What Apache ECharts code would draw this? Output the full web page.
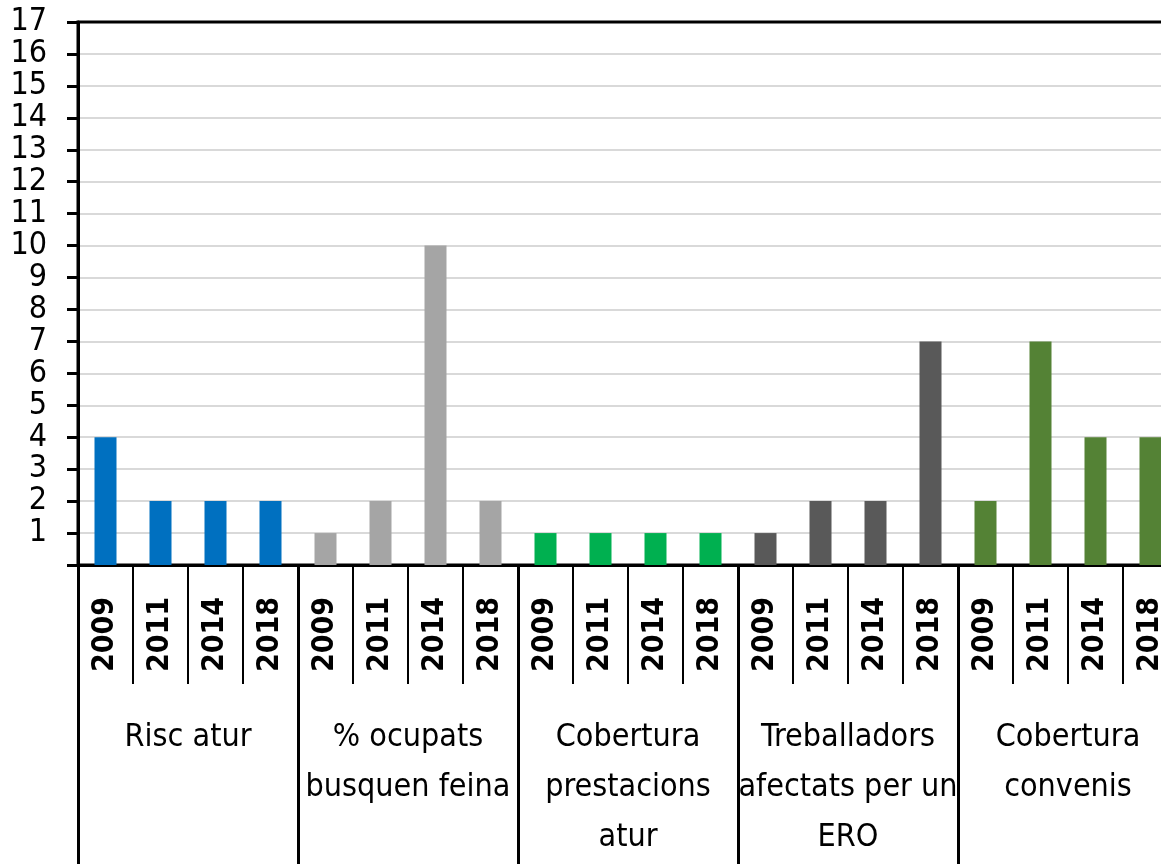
<!DOCTYPE html>
<html>
<head>
<meta charset="utf-8">
<title>Indicadors</title>
<script src="https://cdn.jsdelivr.net/npm/echarts@6/dist/echarts.min.js"></script>
<style>
  html, body { margin: 0; padding: 0; background: #fff; }
  #chart { width: 1161px; height: 864px; }
</style>
</head>
<body>
<div id="chart"></div>
<script>
// dades
var years = ["2009", "2011", "2014", "2018"];
var groups = ["Risc atur", "% ocupats\nbusquen feina", "Cobertura\nprestacions\natur", "Treballadors\nafectats per un\nERO", "Cobertura\nconvenis"];
var riscAtur = [4, 2, 2, 2];
var ocupatsBusquen = [1, 2, 10, 2];
var coberturaPrestacions = [1, 1, 1, 1];
var treballadorsEro = [1, 2, 2, 7];
var coberturaConvenis = [2, 7, 4, 4];
var yTicks = [1, 2, 3, 4, 5, 6, 7, 8, 9, 10, 11, 12, 13, 14, 15, 16, 17];

var groupColors = ["#0070C0", "#A5A5A5", "#00B050", "#595959", "#548235"];
var groupValues = [riscAtur, ocupatsBusquen, coberturaPrestacions, treballadorsEro, coberturaConvenis];

var font = "'Liberation Sans Narrow', 'DejaVu Sans Condensed', sans-serif";

var yearCats = [];
var barData = [];
groupValues.forEach(function (vals, g) {
  vals.forEach(function (v, i) {
    yearCats.push(years[i]);
    barData.push({ value: v, itemStyle: { color: groupColors[g] } });
  });
});

var chart = echarts.init(document.getElementById("chart"));
chart.setOption({
  animation: false,
  grid: {
    left: 78, top: 22, bottom: 299, width: 1100,
    outerBoundsMode: "none",
    show: true, borderColor: "#000", borderWidth: 3, backgroundColor: "transparent"
  },
  xAxis: [
    {
      type: "category",
      data: yearCats,
      position: "bottom",
      axisLine: { lineStyle: { color: "#000", width: 3 } },
      axisTick: { show: true, interval: 0, length: 119, lineStyle: { color: "#000", width: 2 } },
      axisLabel: {
        interval: 0, rotate: 90, margin: 32,
        color: "#000", fontFamily: "'DejaVu Sans Condensed', sans-serif",
        fontWeight: "bold", fontSize: 30
      }
    },
    {
      type: "category",
      data: groups,
      position: "bottom",
      axisLine: { show: false },
      axisTick: { show: true, interval: 0, length: 300, lineStyle: { color: "#000", width: 3 } },
      axisLabel: {
        interval: 0, margin: 148,
        color: "#000", fontFamily: font, fontSize: 32, lineHeight: 50
      }
    }
  ],
  yAxis: {
    type: "value",
    min: 0, max: yTicks[yTicks.length - 1], interval: 1,
    axisLine: { show: true, lineStyle: { color: "#000", width: 3 } },
    axisTick: { show: true, length: 11, lineStyle: { color: "#000", width: 3 } },
    splitLine: { showMaxLine: false, lineStyle: { color: "#D9D9D9", width: 2 } },
    axisLabel: {
      margin: 31, color: "#000", fontFamily: font, fontSize: 32,
      formatter: function (v) { return yTicks.indexOf(v) >= 0 ? String(v) : ""; }
    }
  },
  series: [{
    type: "bar",
    xAxisIndex: 0,
    barWidth: 22,
    data: barData
  }]
});
</script>
</body>
</html>
